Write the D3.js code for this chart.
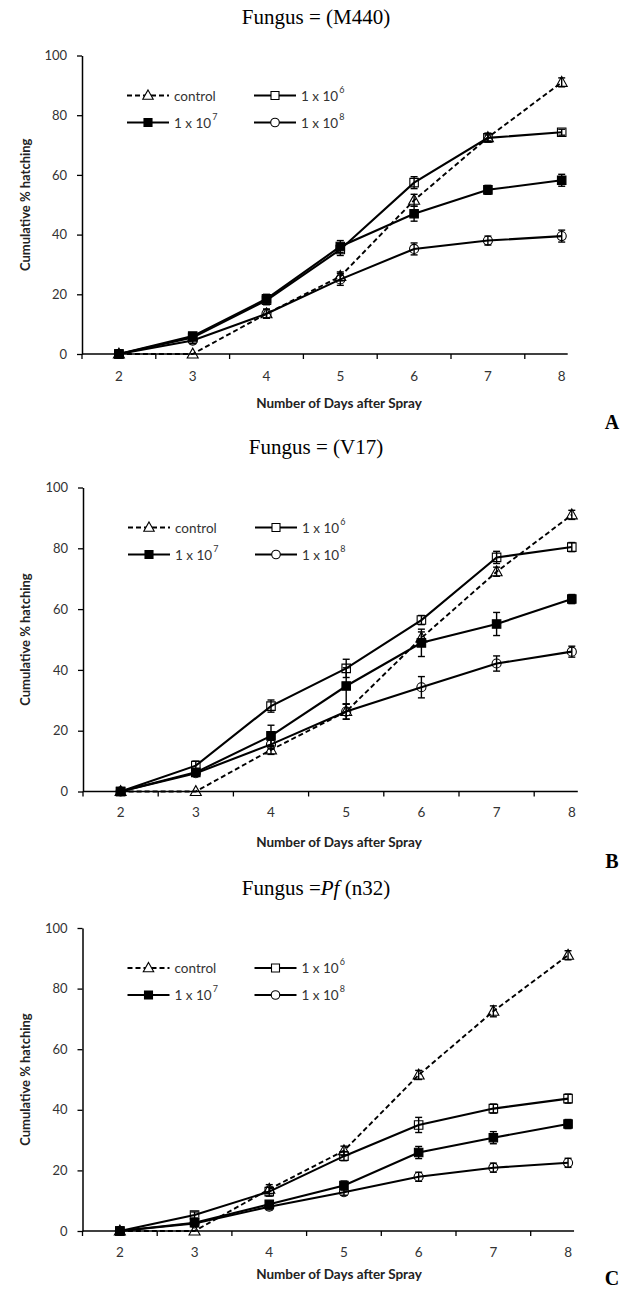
<!DOCTYPE html>
<html>
<head>
<meta charset="utf-8">
<script src="https://cdn.jsdelivr.net/npm/d3@7"></script>
<style>
  html, body { margin: 0; padding: 0; background: #ffffff; }
  svg { display: block; }
</style>
</head>
<body>
<svg id="chart" width="629" height="1291"></svg>
<script>
// ---------- data ----------
const days = ["2", "3", "4", "5", "6", "7", "8"];
const seriesNames = ["control", "1e6", "1e7", "1e8"];
const yTicks = [0, 20, 40, 60, 80, 100];

// Panel A : Fungus = (M440)
const A_control = [0, 0, 13.5, 26, 51.5, 72.5, 91];
const A_e6      = [0, 5.5, 18, 35, 57.4, 72.4, 74.3];
const A_e7      = [0, 6, 18.5, 36, 47, 55, 58.2];
const A_e8      = [0, 4.5, 13.5, 25, 35.2, 38, 39.5];
const A_control_err = [0, 0, 1.5, 1.5, 2, 1.5, 1.5];
const A_e6_err      = [0, 1, 1.5, 2, 2, 1, 1];
const A_e7_err      = [0, 1, 1.5, 2, 2.5, 1.5, 2];
const A_e8_err      = [0, 1, 1.5, 2, 2, 1.5, 2];

// Panel B : Fungus = (V17)
const B_control = [0, 0, 13.7, 26.3, 50.5, 72.3, 91];
const B_e6      = [0, 8.5, 28.1, 40.5, 56.4, 77, 80.4];
const B_e7      = [0, 6.3, 18.3, 34.7, 48.9, 55.1, 63.3];
const B_e8      = [0, 6, 15.5, 26.3, 34.3, 42.1, 46];
const B_control_err = [0, 0, 1.5, 2.5, 2, 1.5, 1.5];
const B_e6_err      = [0, 1.5, 2, 3, 1.5, 2, 1.5];
const B_e7_err      = [0, 1, 3.5, 6, 4.5, 3.8, 1.5];
const B_e8_err      = [0, 1, 1.5, 2.5, 3.5, 2.5, 1.8];

// Panel C : Fungus = Pf (n32)
const C_control = [0, 0, 13.8, 26.5, 51.5, 72.5, 91];
const C_e6      = [0, 5.3, 13, 24.7, 35, 40.4, 43.7];
const C_e7      = [0, 2.7, 8.8, 15, 25.9, 30.8, 35.3];
const C_e8      = [0, 2.5, 8, 12.8, 17.9, 20.9, 22.5];
const C_control_err = [0, 0, 1.5, 1.5, 1.5, 1.8, 1.5];
const C_e6_err      = [0, 1, 1.5, 1.5, 2.5, 1.5, 1.5];
const C_e7_err      = [0, 1, 1, 1.5, 2, 2, 1.5];
const C_e8_err      = [0, 0.5, 1, 1, 1.5, 1.5, 1.5];

// ---------- layout ----------
const panels = [
  { letter: "A", titleParts: [["Fungus = (M440)", "normal"]], titleY: 17, top: 55.5, zero: 354,
    left: 82, band: 73.8, labelOff: 25, xTitleOff: 49, letterOff: 68,
    values: [A_control, A_e6, A_e7, A_e8], errs: [A_control_err, A_e6_err, A_e7_err, A_e8_err] },
  { letter: "B", titleParts: [["Fungus = (V17)", "normal"]], titleY: 447, top: 487.5, zero: 791.5,
    left: 83, band: 75.2, labelOff: 24, xTitleOff: 50, letterOff: 69,
    values: [B_control, B_e6, B_e7, B_e8], errs: [B_control_err, B_e6_err, B_e7_err, B_e8_err] },
  { letter: "C", titleParts: [["Fungus =", "normal"], ["Pf", "italic"], [" (n32)", "normal"]], titleY: 888, top: 928, zero: 1231,
    left: 82.5, band: 74.7, labelOff: 24, xTitleOff: 43, letterOff: 47,
    values: [C_control, C_e6, C_e7, C_e8], errs: [C_control_err, C_e6_err, C_e7_err, C_e8_err] }
];

const sansFont = "Lato, 'Open Sans', sans-serif";
const serifFont = "'Liberation Serif', 'Times New Roman', serif";

const svg = d3.select("#chart");

function markerPath(type, size) {
  const s = size;
  if (type === "control") {
    const h = s * 0.95;
    return `M0,${-h * 0.62}L${s * 0.55},${h * 0.42}L${-s * 0.55},${h * 0.42}Z`;
  }
  if (type === "1e8") {
    return d3.symbol().type(d3.symbolCircle).size(s * s * 0.8)();
  }
  const hs = s / 2;
  return `M${-hs},${-hs}H${hs}V${hs}H${-hs}Z`;
}

const markerFill = { control: "#fff", "1e6": "#fff", "1e7": "#000", "1e8": "#fff" };
const markerSize = { control: 10, "1e6": 8.5, "1e7": 8.5, "1e8": 9 };

panels.forEach((p) => {
  const g = svg.append("g");

  const x = d3.scaleBand().domain(days).range([p.left, p.left + p.band * days.length]).paddingInner(0).paddingOuter(0);
  const y = d3.scaleLinear().domain([0, 100]).range([p.zero, p.top]);
  const cx = (d) => x(d) + x.bandwidth() / 2;

  // title
  const t = g.append("text")
    .attr("x", 316).attr("y", p.titleY)
    .attr("text-anchor", "middle").attr("dominant-baseline", "central")
    .attr("font-family", serifFont).attr("font-size", 21).attr("fill", "#000");
  p.titleParts.forEach(([txt, style]) => {
    t.append("tspan").attr("font-style", style).text(txt);
  });

  // y axis
  const yAxis = d3.axisLeft(y).tickValues(yTicks).tickSize(5).tickPadding(10).tickSizeOuter(0);
  const ya = g.append("g").attr("transform", `translate(${p.left},0)`).call(yAxis);
  ya.select(".domain").attr("stroke", "#000").attr("stroke-width", 1.5);
  ya.selectAll(".tick line").attr("stroke", "#000").attr("stroke-width", 1.3);
  ya.selectAll(".tick text").attr("font-family", sansFont).attr("font-size", 13).attr("fill", "#333");

  // x axis: labels at band centres, ticks between categories
  const xAxis = d3.axisBottom(x).tickSize(0).tickPadding(p.labelOff - 8);
  const xa = g.append("g").attr("transform", `translate(0,${p.zero})`).call(xAxis);
  xa.select(".domain").remove();
  xa.selectAll(".tick text").attr("font-family", sansFont).attr("font-size", 13.5).attr("fill", "#333");
  const xEnd = cx("8") + 6;
  g.append("line").attr("x1", p.left).attr("x2", xEnd).attr("y1", p.zero).attr("y2", p.zero)
    .attr("stroke", "#000").attr("stroke-width", 1.5);
  g.selectAll("line.xtick").data(days).join("line").attr("class", "xtick")
    .attr("x1", (d) => x(d)).attr("x2", (d) => x(d))
    .attr("y1", p.zero).attr("y2", p.zero + 5)
    .attr("stroke", "#000").attr("stroke-width", 1.3);

  // axis titles
  g.append("text").attr("x", 339).attr("y", p.zero + p.xTitleOff)
    .attr("text-anchor", "middle").attr("dominant-baseline", "central")
    .attr("font-family", sansFont).attr("font-weight", 700).attr("font-size", 13.5).attr("fill", "#222")
    .text("Number of Days after Spray");
  g.append("text")
    .attr("transform", `translate(25,${(p.top + p.zero) / 2}) rotate(-90)`)
    .attr("text-anchor", "middle").attr("dominant-baseline", "central")
    .attr("font-family", sansFont).attr("font-weight", 700).attr("font-size", 13).attr("fill", "#222")
    .text("Cumulative % hatching");

  // panel letter
  g.append("text").attr("x", 612).attr("y", p.zero + p.letterOff)
    .attr("text-anchor", "middle").attr("dominant-baseline", "central")
    .attr("font-family", serifFont).attr("font-weight", 700).attr("font-size", 20).attr("fill", "#000")
    .text(p.letter);

  // series lines
  const line = d3.line().x((d) => cx(d.day)).y((d) => y(d.v));
  const order = [0, 1, 2, 3];
  order.forEach((si) => {
    const name = seriesNames[si];
    const data = days.map((d, i) => ({ day: d, v: p.values[si][i], e: p.errs[si][i] }));
    g.append("path").datum(data).attr("d", line)
      .attr("fill", "none").attr("stroke", "#000")
      .attr("stroke-width", name === "control" ? 1.9 : 2.1)
      .attr("stroke-dasharray", name === "control" ? "5,3" : null);
  });
  // error bars and markers
  order.forEach((si) => {
    const name = seriesNames[si];
    const data = days.map((d, i) => ({ day: d, v: p.values[si][i], e: p.errs[si][i] }));
    const eb = g.append("g");
    const withErr = data.filter((d) => d.e > 0);
    eb.selectAll("line.v").data(withErr).join("line")
      .attr("x1", (d) => cx(d.day)).attr("x2", (d) => cx(d.day))
      .attr("y1", (d) => y(d.v - d.e)).attr("y2", (d) => y(d.v + d.e))
      .attr("stroke", "#000").attr("stroke-width", 1.4);
    ["lo", "hi"].forEach((k) => {
      eb.selectAll("line." + k).data(withErr).join("line")
        .attr("x1", (d) => cx(d.day) - 3.5).attr("x2", (d) => cx(d.day) + 3.5)
        .attr("y1", (d) => y(k === "lo" ? d.v - d.e : d.v + d.e))
        .attr("y2", (d) => y(k === "lo" ? d.v - d.e : d.v + d.e))
        .attr("stroke", "#000").attr("stroke-width", 1.4);
    });
    g.selectAll(null).data(data).join("path")
      .attr("transform", (d) => `translate(${cx(d.day)},${y(d.v)})`)
      .attr("d", markerPath(name, markerSize[name]))
      .attr("fill", markerFill[name]).attr("fill-opacity", name === "1e7" ? 1 : 0)
      .attr("stroke", "#000").attr("stroke-width", 1.1);
  });

  // legend
  const legendItems = [
    { name: "control", col: 0, row: 0, label: ["control", null] },
    { name: "1e6", col: 1, row: 0, label: ["1 x 10", "6"] },
    { name: "1e7", col: 0, row: 1, label: ["1 x 10", "7"] },
    { name: "1e8", col: 1, row: 1, label: ["1 x 10", "8"] }
  ];
  const colX = [p.left + 45, p.left + 172];
  const rowY = [p.top + 40, p.top + 67];
  legendItems.forEach((it) => {
    const lx = colX[it.col], ly = rowY[it.row];
    const lg = g.append("g");
    lg.append("line").attr("x1", lx).attr("x2", lx + 42).attr("y1", ly).attr("y2", ly)
      .attr("stroke", "#000").attr("stroke-width", it.name === "control" ? 1.9 : 2.1)
      .attr("stroke-dasharray", it.name === "control" ? "5,3" : null);
    lg.append("path").attr("transform", `translate(${lx + 21},${ly})`)
      .attr("d", markerPath(it.name, markerSize[it.name] - 0.5))
      .attr("fill", it.name === "1e7" ? "#000" : "#fff")
      .attr("stroke", "#000").attr("stroke-width", 1.1);
    const tx = lg.append("text").attr("x", lx + 47).attr("y", ly)
      .attr("dominant-baseline", "central")
      .attr("font-family", sansFont).attr("font-size", 13.5).attr("fill", "#333");
    tx.append("tspan").text(it.label[0]);
    if (it.label[1]) {
      tx.append("tspan").attr("dy", -7).attr("dx", 1).attr("font-size", 9).text(it.label[1]);
    }
  });
});
</script>
</body>
</html>
